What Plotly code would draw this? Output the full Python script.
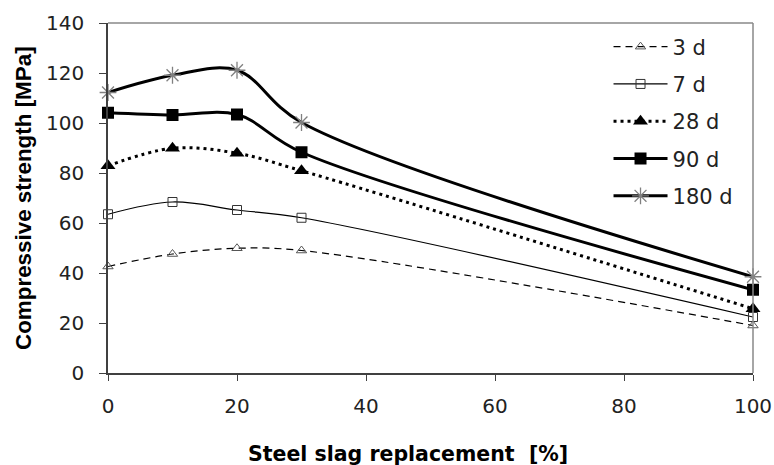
import plotly.graph_objects as go

replacement = [0, 10, 20, 30, 100]
s3 = [42.6, 47.6, 49.9, 49.0, 19.0]
s7 = [63.5, 68.4, 65.2, 62.1, 22.4]
s28 = [82.9, 89.9, 87.9, 80.9, 25.7]
s90 = [104.1, 103.2, 103.4, 88.3, 33.3]
s180 = [112.2, 119.1, 121.1, 100.2, 38.5]
names = ["3 d", "7 d", "28 d", "90 d", "180 d"]
x_ticks = [0, 20, 40, 60, 80, 100]
y_ticks = [0, 20, 40, 60, 80, 100, 120, 140]

TICKFONT = "DejaVu Sans"
TITLEFONT = "Liberation Sans"

fig = go.Figure()
styles = [
    (s3, dict(color="black", width=1.2, dash="7px,5px"),
     dict(symbol="triangle-up-open", size=9, color="#555555", line=dict(width=1, color="#555555"))),
    (s7, dict(color="black", width=1.2),
     dict(symbol="square-open", size=9, color="#333333", line=dict(width=1, color="#333333"))),
    (s28, dict(color="black", width=3, dash="3px,4px"),
     dict(symbol="triangle-up", size=13, color="black")),
    (s90, dict(color="black", width=3),
     dict(symbol="square", size=12, color="black")),
    (s180, dict(color="black", width=3),
     dict(symbol="asterisk-open", size=14, color="#808080", line=dict(width=1.3, color="#808080"))),
]
for i, (vals, ln, mk) in enumerate(styles):
    fig.add_trace(go.Scatter(
        x=replacement, y=vals, name=names[i], mode="lines+markers",
        line=dict(shape="spline", smoothing=1, **ln), marker=mk,
        legendgroup=f"g{i}", cliponaxis=False,
    ))

fig.update_layout(
    width=774, height=465,
    margin=dict(l=108, r=21, t=23, b=92, autoexpand=False),
    paper_bgcolor="white", plot_bgcolor="white",
    font=dict(family=TICKFONT, size=20, color="#222222"),
    showlegend=True,
    legend=dict(x=0.776, y=0.99, xanchor="left", yanchor="top",
                bgcolor="rgba(0,0,0,0)", font=dict(family=TICKFONT, size=21, color="#222222"),
                tracegroupgap=7, traceorder="grouped", itemwidth=54),
    xaxis=dict(range=[0, 100], tickvals=x_ticks, showgrid=False, zeroline=False,
               showline=True, linecolor="#404040", linewidth=1.5, automargin=False,
               ticks="outside", ticklen=6, tickcolor="#404040", ticklabelstandoff=8,
               tickfont=dict(family=TICKFONT, size=20, color="#222222")),
    yaxis=dict(range=[0, 140], tickvals=y_ticks, showgrid=False, zeroline=False,
               showline=True, linecolor="#404040", linewidth=1.5, automargin=False,
               ticks="outside", ticklen=7, tickcolor="#404040", ticklabelstandoff=11,
               tickfont=dict(family=TICKFONT, size=20, color="#222222")),
    shapes=[
        dict(type="line", xref="paper", yref="paper", x0=0, x1=1, y0=1, y1=1,
             line=dict(color="#888888", width=1.5)),
        dict(type="line", xref="paper", yref="paper", x0=1, x1=1, y0=0, y1=1,
             line=dict(color="#888888", width=1.5)),
    ],
    annotations=[
        dict(text="<b>Steel slag replacement&nbsp; [%]</b>", xref="paper", yref="paper",
             x=0.465, y=-0.232, xanchor="center", yanchor="middle", showarrow=False,
             font=dict(family="DejaVu Sans", size=20.5, color="black")),
        dict(text="<b>Compressive strength [MPa]</b>", xref="paper", yref="paper",
             x=-0.1318, y=0.5, xanchor="center", yanchor="middle", showarrow=False,
             textangle=-90, font=dict(family=TITLEFONT, size=22.4, color="black")),
    ],
)

fig.write_html("out.html", config={"displayModeBar": False},
               post_script="document.body.style.margin='0';document.body.style.overflow='hidden';")
